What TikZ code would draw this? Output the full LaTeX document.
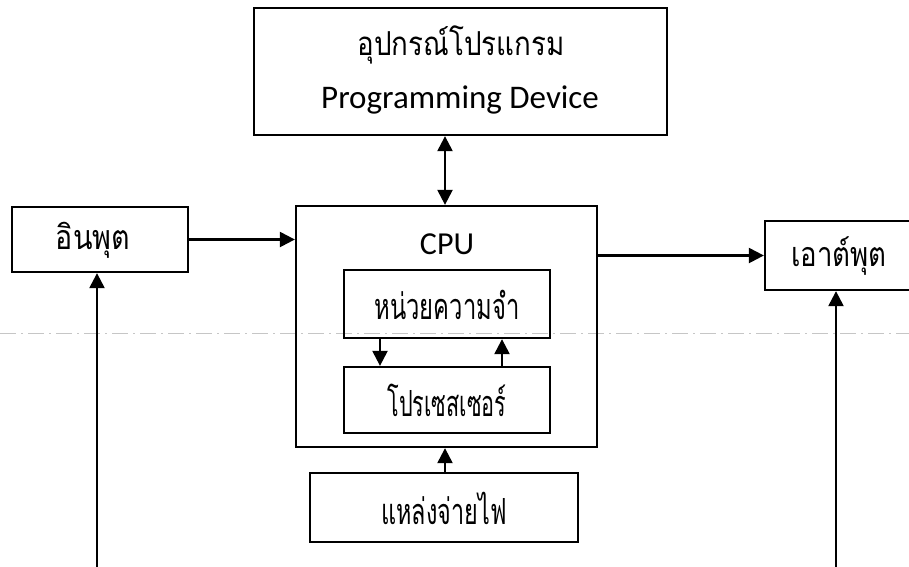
\documentclass[tikz,border=0pt]{standalone}
\usepackage{fontspec}
\setmainfont{Carlito}
\newfontfamily\thaifont[Script=Thai]{Loma}
\usetikzlibrary{arrows.meta}
\tikzset{
  x=1pt, y=-1pt,
  box/.style={draw, line width=2.3pt, inner sep=0pt, anchor=center},
  tip/.tip={Triangle[length=15pt,width=15pt]},
  conn/.style={line width=2.3pt, -tip},
  thai/.style={font=\thaifont\fontsize{34}{38}\selectfont},
  thain/.style={font=\thaifont\fontsize{36}{40}\selectfont},
  latin/.style={font=\fontsize{33}{36}\selectfont},
}
\begin{document}
\begin{tikzpicture}
\useasboundingbox (0,0) rectangle (909,566);
% scan artifact line
\draw[gray!45, line width=0.5pt, dash pattern=on 16pt off 5pt on 2pt off 5pt] (0,333) -- (909,333);
% boxes
\node[box, minimum width=413pt, minimum height=127pt] (prog) at (460.5,71.5) {};
\node[thai, font=\thaifont\fontsize{33}{36}\selectfont, xscale=0.84] (progth) at (461,45) {อุปกรณ์โปรแกรม};
\node[latin] (progen) at (460,100) {Programming Device};
\node[box, minimum width=176pt, minimum height=65pt] (in) at (100,239.5) {};
\node[thai, xscale=0.84] (intx) at (93,240) {อินพุต};
\node[box, minimum width=301pt, minimum height=241pt] (cpu) at (446.5,326.5) {};
\node[latin, font=\fontsize{32}{36}\selectfont] (cputx) at (447,244) {CPU};
\node[box, minimum width=206pt, minimum height=68pt] (mem) at (447,304) {};
\node[thain, xscale=0.66] (memtx) at (447,305) {หน่วยความจำ};
\node[box, minimum width=206pt, minimum height=66pt] (proc) at (447,400) {};
\node[thain, xscale=0.6] (proctx) at (447,400) {โปรเซสเซอร์};
\node[box, minimum width=148pt, minimum height=69pt] (out) at (839,255.5) {};
\node[thai, xscale=0.81] (outtx) at (839,256) {เอาต์พุต};
\node[box, minimum width=268pt, minimum height=69pt] (pow) at (444,507.5) {};
\node[thain, xscale=0.65] (powtx) at (444,508) {แหล่งจ่ายไฟ};
% connectors
\coordinate (pc) at (445,0);
\draw[conn, tip-tip] (prog.south -| pc) -- (cpu.north -| pc);
\draw[conn] (in.east) -- (in.east -| cpu.west);
\draw[conn] (out.west -| cpu.east) -- (out.west);
\coordinate (md) at (380,0);
\coordinate (mu) at (502,0);
\draw[conn] (mem.south -| md) -- (proc.north -| md);
\draw[conn] (proc.north -| mu) -- (mem.south -| mu);
\draw[conn] (pow.north -| pc) -- (cpu.south -| pc);
\coordinate (bl) at (97,575);
\coordinate (br) at (836,575);
\draw[conn] (bl) -- (in.south -| bl);
\draw[conn] (br) -- (out.south -| br);
\end{tikzpicture}
\end{document}
